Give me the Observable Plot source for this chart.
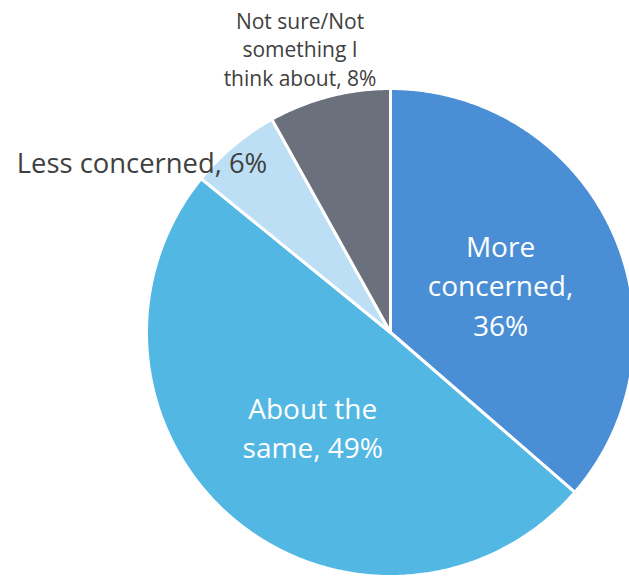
<!DOCTYPE html>
<html>
<head>
<meta charset="utf-8">
<script src="https://cdn.jsdelivr.net/npm/d3@7"></script>
<script src="https://cdn.jsdelivr.net/npm/@observablehq/plot@0.6"></script>
<style>
  html, body { margin: 0; padding: 0; background: #ffffff; }
  #chart svg { display: block; }
</style>
</head>
<body>
<div id="chart"></div>
<script>
const categories = ["More concerned", "About the same", "Less concerned", "Not sure/Not something I think about"];
const values = [36, 49, 6, 8];
const labelTexts = ["More\nconcerned,\n36%", "About the\nsame, 49%", "Less concerned, 6%", "Not sure/Not\nsomething I\nthink about, 8%"];
const sliceColors = ["#4A8FD5", "#53B7E3", "#BDDFF5", "#6A717C"];

// pie geometry (unit radius, angle clockwise from top)
const arcs = d3.pie().sort(null).startAngle(0).endAngle(2 * Math.PI)(values);
const polyPoints = [];
arcs.forEach((a, i) => {
  polyPoints.push({cat: categories[i], color: sliceColors[i], x: 0, y: 0});
  const n = Math.max(2, Math.ceil((a.endAngle - a.startAngle) / (Math.PI / 360)));
  for (let k = 0; k <= n; k++) {
    const t = a.startAngle + (a.endAngle - a.startAngle) * k / n;
    polyPoints.push({cat: categories[i], color: sliceColors[i], x: Math.sin(t), y: Math.cos(t)});
  }
});

// label placement (radius factor, angular nudge in degrees)
const place = [
  {r: 0.4935, da: 0.54, size: 28, lh: 1.41, fill: "#ffffff"},
  {r: 0.499, da: -0.3, size: 28, lh: 1.39, fill: "#ffffff"},
  {r: 1.2386, da: -15.31, size: 27.4, lh: 1.4, fill: "#404040"},
  {r: 1.2224, da: -3.11, size: 21, lh: 1.36, fill: "#404040"}
];
const labels = arcs.map((a, i) => {
  const mid = (a.startAngle + a.endAngle) / 2 + place[i].da * Math.PI / 180;
  return {
    text: labelTexts[i],
    x: place[i].r * Math.sin(mid),
    y: place[i].r * Math.cos(mid),
    ...place[i]
  };
});

const R = 244, cx = 390, cy = 332, W = 629, H = 576;

const chart = Plot.plot({
  width: W,
  height: H,
  margin: 0,
  x: {domain: [-cx / R, (W - cx) / R], axis: null},
  y: {domain: [-(H - cy) / R, cy / R], axis: null},
  style: {background: "#ffffff", fontFamily: "'Open Sans', sans-serif"},
  marks: [
    Plot.line(polyPoints, {
      x: "x", y: "y", z: "cat",
      fill: "color",
      stroke: "#ffffff",
      strokeWidth: 3,
      strokeLinejoin: "round",
      curve: "linear-closed"
    }),
    ...labels.map(d => Plot.text([d], {
      x: "x", y: "y", text: "text",
      fill: d.fill,
      fontSize: d.size,
      lineHeight: d.lh,
      textAnchor: "middle",
      lineAnchor: "middle",
      fontFamily: "'Open Sans', sans-serif"
    }))
  ]
});
document.getElementById("chart").appendChild(chart);
</script>
</body>
</html>
